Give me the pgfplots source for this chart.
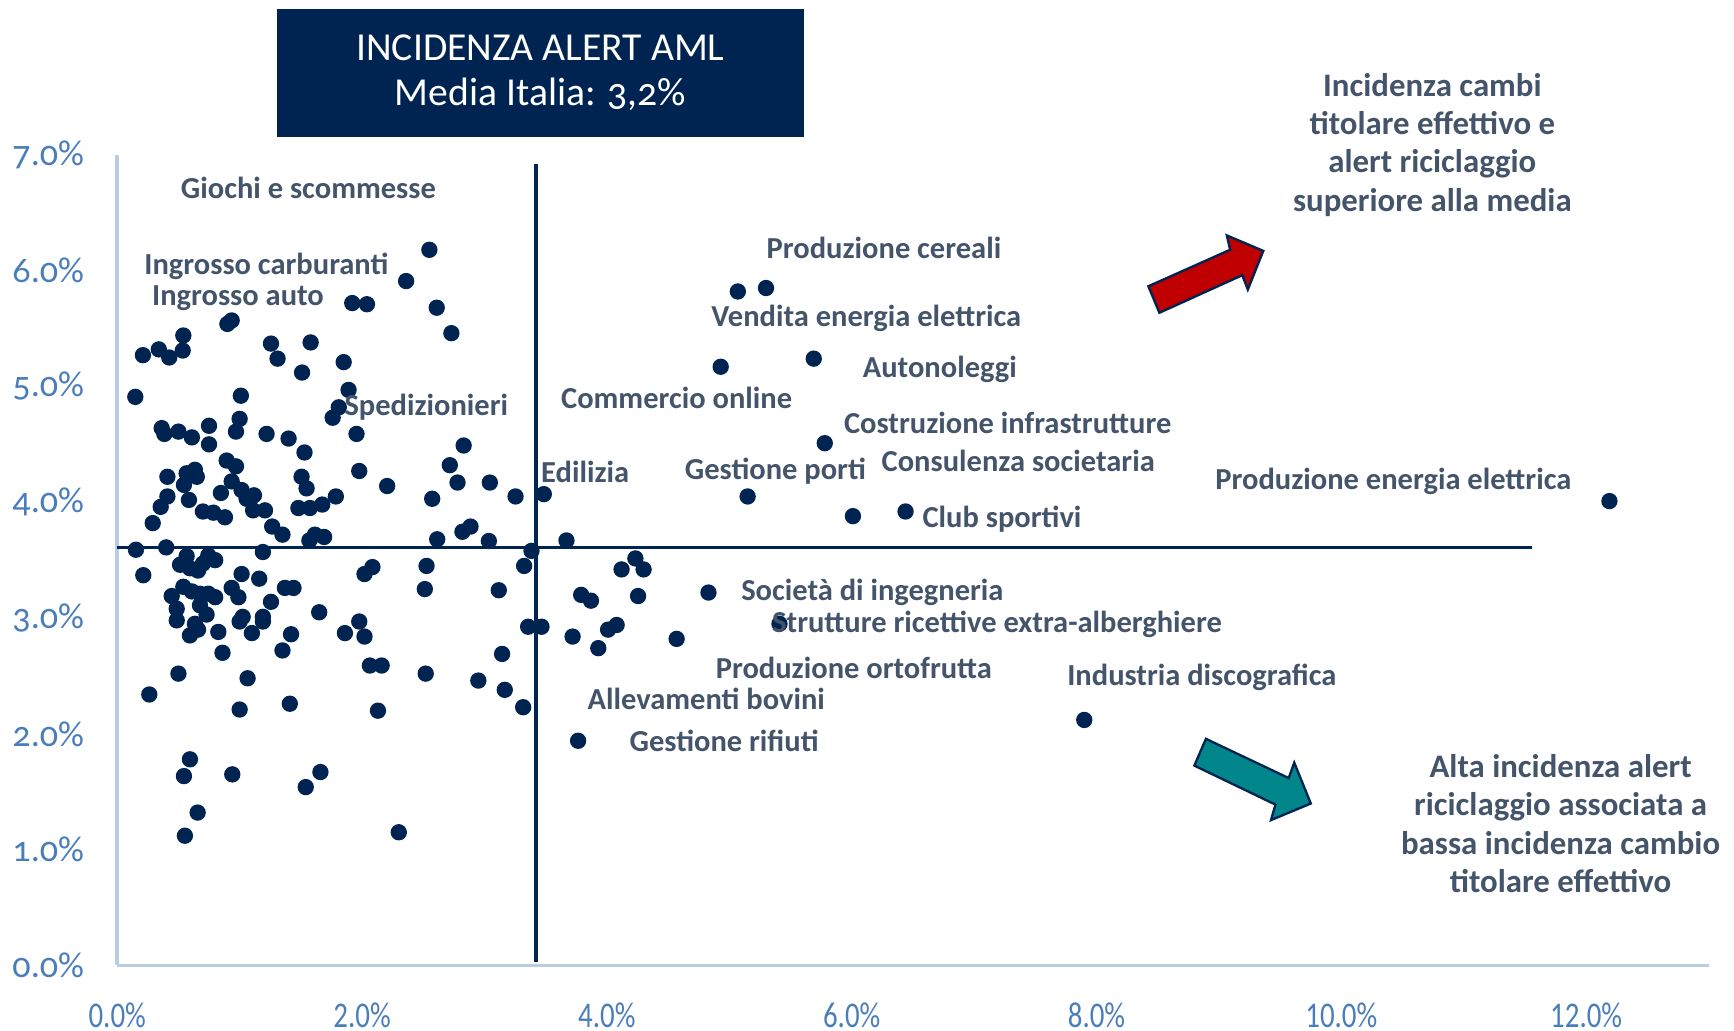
\documentclass[border=0pt]{standalone}
\usepackage{pgfplots}
\pgfplotsset{compat=1.18}
\usepackage{fontspec}
\setmainfont{Carlito}
\newfontfamily\osfont[Numbers=OldStyle]{Carlito}
\definecolor{navy}{HTML}{002452}
\definecolor{lbl}{HTML}{44546A}
\definecolor{tickblue}{HTML}{4A7EBB}
\definecolor{axisblue}{HTML}{B9CDE5}
\definecolor{arrowred}{HTML}{C00000}
\definecolor{arrowteal}{HTML}{00868B}

\pgfplotstableread{
x y
2.36 5.91
1.92 5.72
2.04 5.71
0.90 5.54
0.935 5.57
0.54 5.44
0.21 5.27
0.34 5.32
0.425 5.25
0.535 5.31
1.256 5.37
1.31 5.24
1.58 5.38
1.51 5.12
1.85 5.21
1.89 4.97
0.148 4.91
1.01 4.92
1.81 4.82
1.76 4.73
1.00 4.72
0.363 4.64
0.385 4.59
0.50 4.61
0.61 4.56
0.75 4.66
0.75 4.50
0.97 4.61
1.22 4.59
1.40 4.55
1.53 4.43
1.955 4.59
2.55 6.18
2.61 5.68
2.73 5.46
2.83 4.49
0.894 4.36
0.97 4.31
0.41 4.22
0.567 4.25
0.635 4.28
0.65 4.22
0.545 4.15
0.935 4.18
0.41 4.05
0.355 3.96
0.586 4.02
0.847 4.08
1.016 4.105
1.057 4.03
1.117 4.06
1.11 3.93
1.207 3.93
0.70 3.92
0.785 3.91
0.88 3.87
0.29 3.82
1.266 3.79
1.35 3.72
1.506 4.22
1.547 4.12
1.48 3.95
1.574 3.95
1.675 3.98
1.786 4.05
1.977 4.27
2.205 4.14
1.57 3.67
1.615 3.72
1.69 3.70
0.153 3.59
0.40 3.61
1.19 3.57
0.213 3.37
0.567 3.535
0.513 3.46
0.594 3.43
0.66 3.41
0.744 3.54
0.80 3.50
0.70 3.47
1.016 3.38
1.16 3.34
0.445 3.19
0.54 3.27
0.61 3.23
0.676 3.21
0.744 3.21
0.80 3.18
0.486 3.08
0.486 2.98
0.676 3.11
0.73 3.03
0.635 2.95
0.66 2.90
0.594 2.85
0.826 2.88
0.935 3.26
0.99 3.18
1.256 3.14
1.37 3.26
1.44 3.26
1.025 3.01
1.00 2.97
1.19 3.01
1.19 2.97
1.10 2.87
1.42 2.86
1.65 3.05
0.86 2.70
1.35 2.72
1.86 2.87
1.977 2.97
2.02 2.84
2.02 3.38
2.085 3.44
2.717 4.32
2.78 4.17
3.044 4.17
2.573 4.03
3.254 4.05
3.485 4.07
2.614 3.68
2.82 3.745
2.886 3.79
3.036 3.665
3.384 3.58
3.67 3.67
2.527 3.45
2.513 3.25
3.324 3.45
3.117 3.24
3.357 2.925
3.466 2.925
3.72 2.84
3.144 2.69
2.064 2.59
2.16 2.59
0.50 2.52
1.065 2.48
0.262 2.34
1.00 2.21
1.41 2.26
2.13 2.20
0.594 1.78
0.545 1.635
0.94 1.65
1.66 1.67
1.54 1.54
0.657 1.32
0.553 1.12
2.30 1.15
2.52 2.52
2.95 2.46
3.166 2.38
3.316 2.23
3.765 1.94
5.78 4.51
5.15 4.05
4.233 3.515
4.30 3.42
4.12 3.42
3.79 3.20
3.87 3.15
4.255 3.19
4.83 3.22
5.41 2.95
4.01 2.90
4.08 2.94
3.93 2.74
4.57 2.82
5.07 5.82
5.30 5.85
4.93 5.17
5.69 5.24
6.01 3.88
6.44 3.92
12.19 4.01
7.90 2.12
}\settori

\begin{document}
\begin{tikzpicture}
\path[use as bounding box] (-1.06cm,-0.59cm) rectangle (14.62cm,8.73cm);
\begin{axis}[
  scale only axis, width=14.39cm, height=7.33cm,
  xmin=0, xmax=13, ymin=0, ymax=7,
  axis x line*=bottom, axis y line*=left,
  axis line style={axisblue, line width=0.9pt, -},
  xtick={0,2,...,12}, ytick={0,1,...,7},
  major tick length=0pt,
  tick label style={tickblue, font=\fontsize{9.3}{10}\selectfont},
  xticklabel={\scalebox{0.8}[1]{\pgfmathprintnumber[fixed,fixed zerofill,precision=1,assume math mode=true]{\tick}\%}},
  yticklabel={\osfont\pgfmathprintnumber[fixed,fixed zerofill,precision=1,assume math mode=true]{\tick}\%},
  xticklabel style={yshift=-6pt},
  yticklabel style={xshift=-5pt},
  clip=false,
]
\addplot[navy, line width=0.9pt] coordinates {(0,3.61) (11.56,3.61)};
\addplot[navy, line width=0.9pt] coordinates {(3.42,0.03) (3.42,6.92)};
\addplot[only marks, mark=*, mark size=1.9pt, mark options={draw=navy, fill=navy}] table {\settori};
\end{axis}

\begin{scope}[x=0.01cm, y=-0.01cm, shift={(-1.06cm,8.73cm)}]
  % title box
  \fill[navy] (251,8) rectangle (727,124);
  \node[white, align=center, font=\fontsize{10.2}{11.6}\selectfont] at (489,66)
    {INCIDENZA ALERT AML\\Media Italia: {\osfont 3,2\%}};
  % labels
  \tikzset{lab/.style={anchor=west, inner sep=0pt, lbl, font=\fontsize{7.85}{9}\selectfont\bfseries}}
  \node[lab] at (163,170) {Giochi e scommesse};
  \node[lab] at (130,241) {Ingrosso carburanti};
  \node[lab] at (137,270) {Ingrosso auto};
  \node[lab] at (311,368) {Spedizionieri};
  \node[lab] at (489,427) {Edilizia};
  \node[lab] at (507,360) {Commercio online};
  \node[lab] at (693,224) {Produzione cereali};
  \node[lab] at (643,288) {Vendita energia elettrica};
  \node[lab] at (780,334) {Autonoleggi};
  \node[lab] at (763,383) {Costruzione infrastrutture};
  \node[lab] at (797,417) {Consulenza societaria};
  \node[lab] at (619,426) {Gestione porti};
  \node[lab] at (1099,436) {Produzione energia elettrica};
  \node[lab] at (834,470) {Club sportivi};
  \node[lab] at (670,536) {Società di ingegneria};
  \node[lab] at (698,565) {Strutture ricettive extra-alberghiere};
  \node[lab] at (647,604) {Produzione ortofrutta};
  \node[lab] at (531,632) {Allevamenti bovini};
  \node[lab] at (569,670) {Gestione rifiuti};
  \node[lab] at (965,613) {Industria discografica};
  % quadrant notes
  \node[lbl, align=center, font=\fontsize{8.45}{9.9}\selectfont\bfseries] at (1296,131)
    {Incidenza cambi\\titolare effettivo e\\alert riciclaggio\\superiore alla media};
  \node[lbl, align=center, font=\fontsize{8.45}{9.9}\selectfont\bfseries] at (1412,745)
    {Alta incidenza alert\\riciclaggio associata a\\bassa incidenza cambio\\titolare effettivo};
  % arrows
  \filldraw[fill=arrowred, draw=navy, line width=0.6pt, line join=miter]
    (1039,259) -- (1113,226) -- (1110,213) -- (1143,227) -- (1129,262) -- (1124,249) -- (1049,283) -- cycle;
  \filldraw[fill=arrowteal, draw=navy, line width=0.6pt, line join=miter]
    (1091.1,668.5) -- (1166,704) -- (1171,690) -- (1186,727) -- (1150,742) -- (1154,728) -- (1080.6,692.7) -- cycle;
\end{scope}
\end{tikzpicture}
\end{document}
